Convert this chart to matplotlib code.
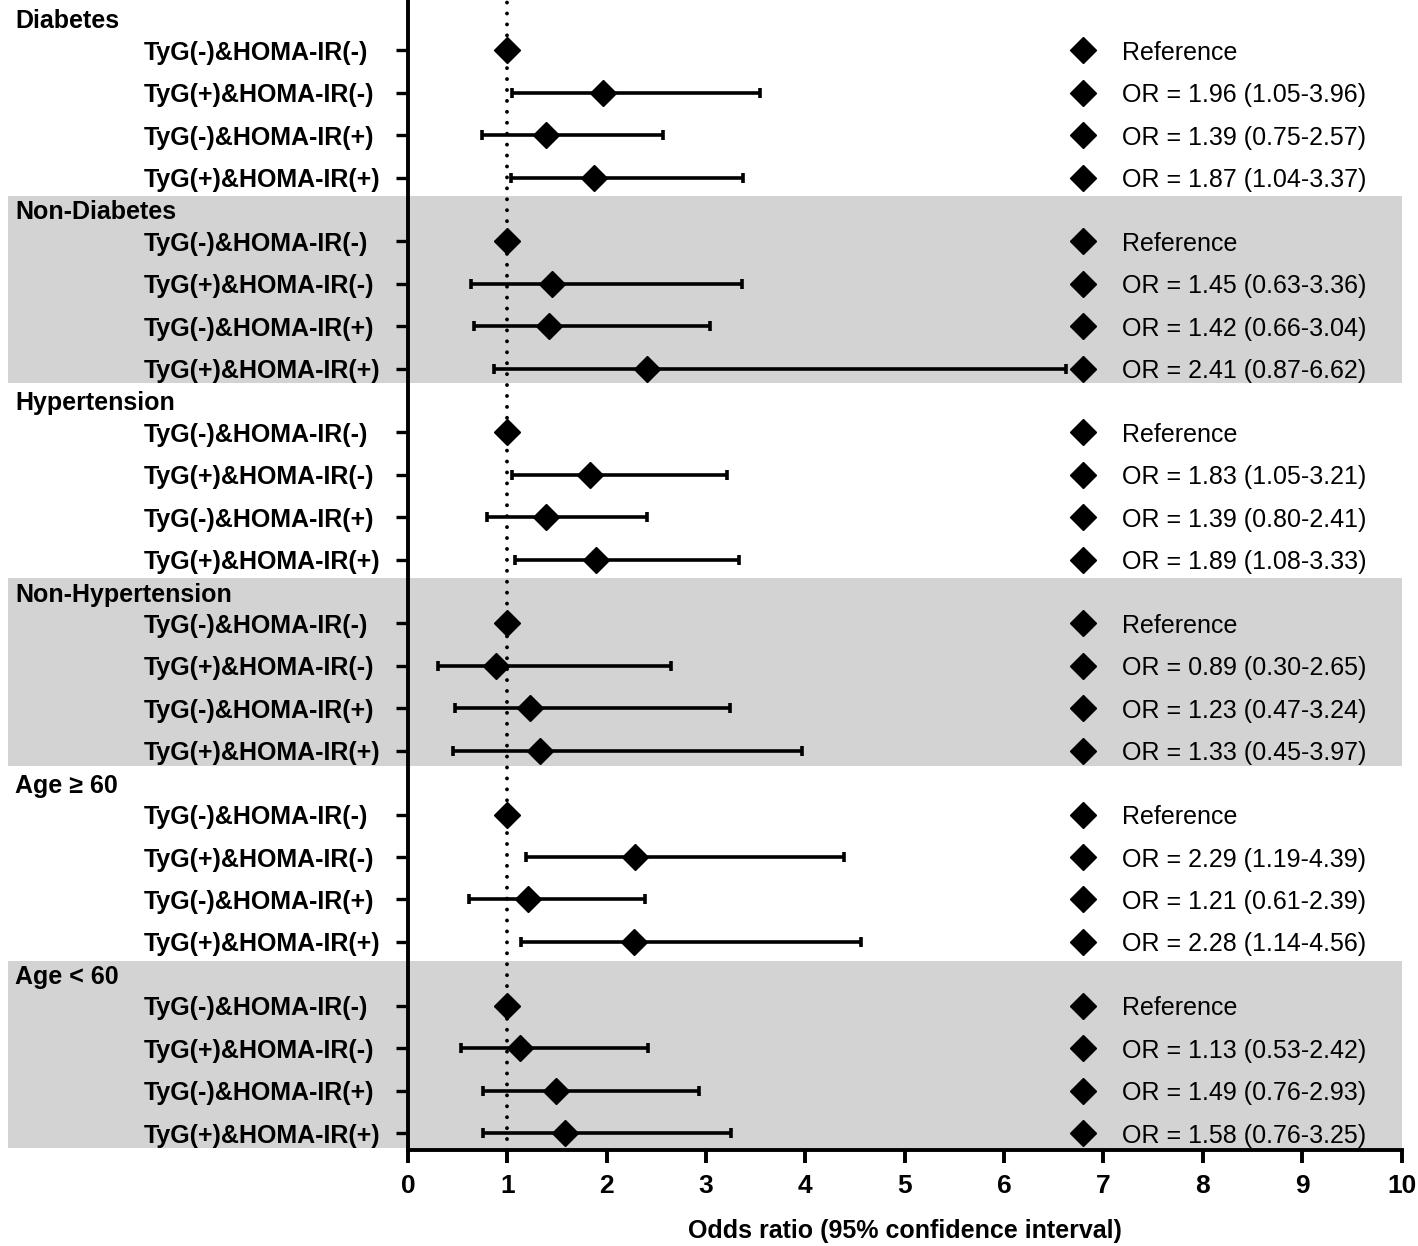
import numpy as np
import matplotlib
matplotlib.use('Agg')
import matplotlib.pyplot as plt
from matplotlib.transforms import blended_transform_factory

plt.rcParams['font.family'] = ['Liberation Sans', 'DejaVu Sans']

# ---------------- data ----------------
groups = ['Diabetes', 'Non-Diabetes', 'Hypertension', 'Non-Hypertension',
          'Age ≥ 60', 'Age < 60']
shaded = [False, True, False, True, False, True]
row_labels = ['TyG(-)&HOMA-IR(-)', 'TyG(+)&HOMA-IR(-)',
              'TyG(-)&HOMA-IR(+)', 'TyG(+)&HOMA-IR(+)']

odds_ratio = [1.00, 1.96, 1.39, 1.87,
              1.00, 1.45, 1.42, 2.41,
              1.00, 1.83, 1.39, 1.89,
              1.00, 0.89, 1.23, 1.33,
              1.00, 2.29, 1.21, 2.28,
              1.00, 1.13, 1.49, 1.58]
nan = np.nan
ci_lower = [nan, 1.05, 0.75, 1.04,
            nan, 0.63, 0.66, 0.87,
            nan, 1.05, 0.80, 1.08,
            nan, 0.30, 0.47, 0.45,
            nan, 1.19, 0.61, 1.14,
            nan, 0.53, 0.76, 0.76]
ci_upper = [nan, 3.54, 2.57, 3.37,
            nan, 3.36, 3.04, 6.62,
            nan, 3.21, 2.41, 3.33,
            nan, 2.65, 3.24, 3.97,
            nan, 4.39, 2.39, 4.56,
            nan, 2.42, 2.93, 3.25]
annotations = ['Reference', 'OR = 1.96 (1.05-3.96)', 'OR = 1.39 (0.75-2.57)', 'OR = 1.87 (1.04-3.37)',
               'Reference', 'OR = 1.45 (0.63-3.36)', 'OR = 1.42 (0.66-3.04)', 'OR = 2.41 (0.87-6.62)',
               'Reference', 'OR = 1.83 (1.05-3.21)', 'OR = 1.39 (0.80-2.41)', 'OR = 1.89 (1.08-3.33)',
               'Reference', 'OR = 0.89 (0.30-2.65)', 'OR = 1.23 (0.47-3.24)', 'OR = 1.33 (0.45-3.97)',
               'Reference', 'OR = 2.29 (1.19-4.39)', 'OR = 1.21 (0.61-2.39)', 'OR = 2.28 (1.14-4.56)',
               'Reference', 'OR = 1.13 (0.53-2.42)', 'OR = 1.49 (0.76-2.93)', 'OR = 1.58 (0.76-3.25)']
x_ticks = list(range(0, 11))
x_label = 'Odds ratio (95% confidence interval)'

# ---------------- layout ----------------
GROUP_STEP = 4.5
n_rows = len(row_labels)
ypos = np.array([g * GROUP_STEP + j for g in range(len(groups)) for j in range(n_rows)])
orv = np.array(odds_ratio)
lo = np.array(ci_lower)
hi = np.array(ci_upper)

fig = plt.figure(figsize=(14.18, 12.46), dpi=100)
ax = fig.add_axes([0.2877, 0.077, 0.7007, 0.923])
ax.set_xlim(0, 10)
ax.set_ylim(25.90, -1.18)

# shaded bands
band_xmin = (8 - 408) / (1401.5 - 408)
for g, sh in enumerate(shaded):
    base = g * GROUP_STEP
    if sh:
        ax.axhspan(base - 1.06, base + 3.35, xmin=band_xmin, xmax=1,
                   facecolor='#d3d3d3', edgecolor='none', zorder=0, clip_on=False)

# reference line
ax.axvline(1, color='black', lw=2.8, ls=(0, (0.01, 2.8)), dash_capstyle='round', zorder=1)

# error bars
m = ~np.isnan(lo)
ax.errorbar(orv[m], ypos[m], xerr=[orv[m] - lo[m], hi[m] - orv[m]], fmt='none',
            ecolor='black', elinewidth=2.6, capsize=3.8, capthick=2.6, zorder=2)
ax.plot(orv, ypos, 'D', color='black', ms=13.3, zorder=3, clip_on=False)

# right column
ax.plot(np.full(len(ypos), 6.79), ypos, 'D', color='black', ms=13.3, zorder=3)
for y, t in zip(ypos, annotations):
    ax.text(7.19, y, t, fontsize=18, va='center_baseline', ha='left', zorder=4)

# group headers
trans = blended_transform_factory(fig.transFigure, ax.transData)
for g, name in enumerate(groups):
    ax.text(15 / 1418, g * GROUP_STEP - 0.74, name, transform=trans, fontsize=18,
            fontweight='bold', va='center_baseline', ha='left', clip_on=False, zorder=4)

# axes styling
for s in ['top', 'right']:
    ax.spines[s].set_visible(False)
for s in ['left', 'bottom']:
    ax.spines[s].set_linewidth(2.8)

ax.set_yticks(ypos)
ax.set_yticklabels(row_labels * len(groups), fontsize=18, fontweight='bold', ha='left')
ax.tick_params(axis='y', length=9, width=2.4, pad=181)

ax.set_xticks(x_ticks)
ax.set_xticklabels([str(v) for v in x_ticks], fontsize=19, fontweight='bold')
ax.tick_params(axis='x', length=9, width=2.8, pad=8)
ax.set_xlabel(x_label, fontsize=18, fontweight='bold', labelpad=15)

fig.savefig('out.png', dpi=100)
